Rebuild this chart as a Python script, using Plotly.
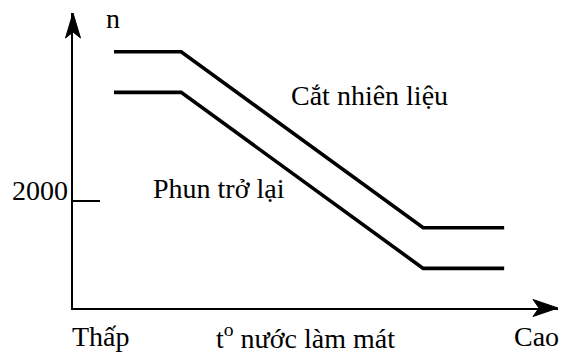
import plotly.graph_objects as go

# ---- data ----
temp_x = [8.45, 22.3, 72.2, 88.9]          # coolant temperature, relative scale (0 = low, 100 = high)
cutoff_rpm = [4790, 4790, 1500, 1500]      # "Cắt nhiên liệu"
resume_rpm = [4030, 4030, 740, 740]        # "Phun trở lại"
series_names = ["Cắt nhiên liệu", "Phun trở lại"]
y_tick_vals = [2000]
y_tick_text = ["2000"]
x_label_pos = [5.8, 48.0, 95.6]
x_labels = ["Thấp", "t<sup>o</sup> nước làm mát", "Cao"]
y_title = "n"

FONT = "Liberation Serif"
FS = 28
X_RANGE = [0, 100]
Y_RANGE = [0, 5514]

fig = go.Figure()
for yv in (cutoff_rpm, resume_rpm):
    fig.add_trace(go.Scatter(x=temp_x, y=yv, mode="lines",
                             line=dict(color="black", width=3.6),
                             showlegend=False, hoverinfo="skip"))

annotations = [
    dict(x=61.2, y=3981, xref="x", yref="y", text=series_names[0], showarrow=False,
         xanchor="center", yanchor="middle"),
    dict(x=30.1, y=2243, xref="x", yref="y", text=series_names[1], showarrow=False,
         xanchor="center", yanchor="middle"),
    dict(x=8.3, y=1.0, xref="x", yref="paper", text=y_title, showarrow=False,
         xanchor="center", yanchor="middle", yshift=-5),
    dict(x=0, y=y_tick_vals[0], xref="paper", yref="y", text=y_tick_text[0], showarrow=False,
         xanchor="right", yanchor="middle", xshift=-3, yshift=11),
]
for xp, lab in zip(x_label_pos, x_labels):
    annotations.append(dict(x=xp, y=0, xref="x", yref="paper", text=lab, showarrow=False,
                            xanchor="center", yanchor="middle", yshift=-28))
for a in annotations:
    a["font"] = dict(family=FONT, size=FS, color="black")

shapes = [
    # arrowhead on y axis
    dict(type="path", xref="paper", yref="paper", xsizemode="pixel", ysizemode="pixel",
         xanchor=0, yanchor=1, path="M0,0 L-7.5,-25 L0,-19 L7.5,-25 Z",
         fillcolor="black", line=dict(color="black", width=1)),
    # arrowhead on x axis
    dict(type="path", xref="paper", yref="paper", xsizemode="pixel", ysizemode="pixel",
         xanchor=1, yanchor=0, path="M0,0 L-25,8.5 L-19,0 L-25,-8.5 Z",
         fillcolor="black", line=dict(color="black", width=1)),
]

fig.update_layout(
    width=563, height=356,
    margin=dict(l=73, r=5, t=13, b=48, pad=0),
    paper_bgcolor="white", plot_bgcolor="white",
    showlegend=False,
    annotations=annotations,
    shapes=shapes,
    xaxis=dict(range=X_RANGE, showline=True, linecolor="black", linewidth=2.4,
               showgrid=False, zeroline=False, showticklabels=False, ticks=""),
    yaxis=dict(range=Y_RANGE, showline=True, linecolor="black", linewidth=2.4,
               showgrid=False, zeroline=False, ticks="inside", ticklen=27,
               tickwidth=2, tickcolor="black", tickvals=y_tick_vals,
               showticklabels=False),
)

fig.write_html(
    "out.html",
    config={"displayModeBar": False},
    post_script="document.body.style.margin='0';document.body.style.overflow='hidden';",
)
